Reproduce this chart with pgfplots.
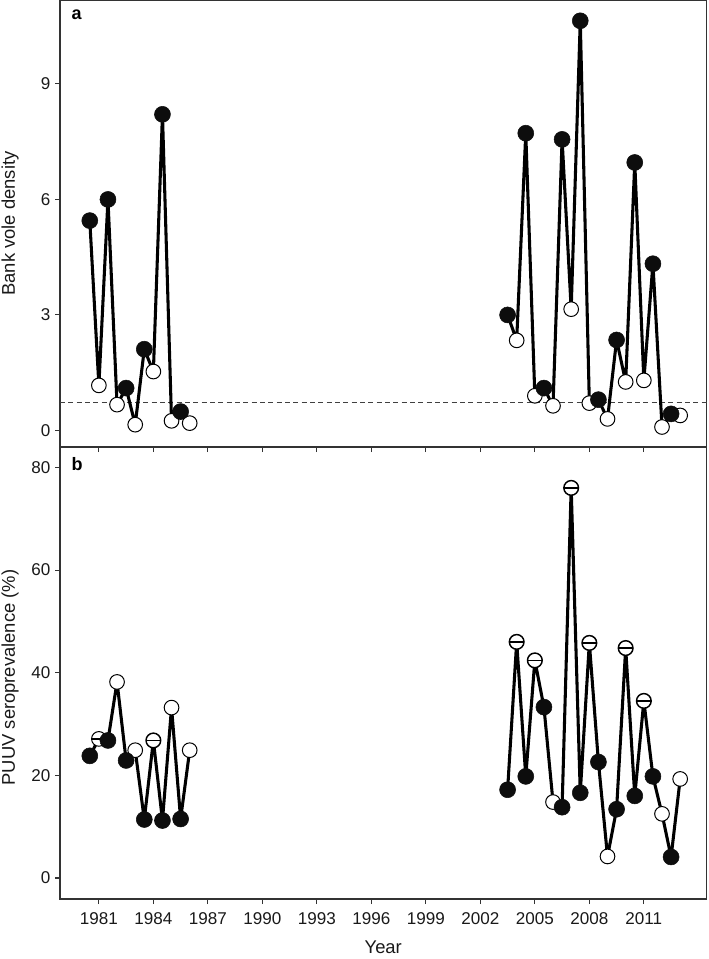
\documentclass[border=0pt]{standalone}
\usepackage{fontspec}
\setmainfont{Liberation Sans}
\usepackage{pgfplots}
\pgfplotsset{compat=1.18}
\usepackage{pgfplotstable}

\pgfdeclareplotmark{ominus}{%
  \pgfpathcircle{\pgfpointorigin}{\pgfplotmarksize}%
  \pgfusepathqfillstroke
  \pgfsetlinewidth{1.1pt}%
  \pgfpathmoveto{\pgfqpoint{-\pgfplotmarksize}{0pt}}%
  \pgfpathlineto{\pgfqpoint{\pgfplotmarksize}{0pt}}%
  \pgfusepathqstroke
}

% t: 0 = autumn (filled), 1 = spring (open), 2 = spring (open, bar)
\pgfplotstableread{
year val t
1980.5 5.45 0
1981.0 1.17 1
1981.5 6.00 0
1982.0 0.67 1
1982.5 1.10 0
1983.0 0.15 1
1983.5 2.11 0
1984.0 1.53 1
1984.5 8.21 0
1985.0 0.25 1
1985.5 0.49 0
1986.0 0.19 1
1995.0 nan 9
2003.5 3.00 0
2004.0 2.34 1
2004.5 7.72 0
2005.0 0.90 1
2005.5 1.10 0
2006.0 0.64 1
2006.5 7.56 0
2007.0 3.15 1
2007.5 10.64 0
2008.0 0.71 1
2008.5 0.80 0
2009.0 0.30 1
2009.5 2.35 0
2010.0 1.26 1
2010.5 6.96 0
2011.0 1.30 1
2011.5 4.33 0
2012.0 0.09 1
2012.5 0.43 0
2013.0 0.39 1
}\tabA

\pgfplotstableread{
year val t
1980.5 23.8 0
1981.0 27.1 2
1981.5 26.8 0
1982.0 38.2 1
1982.5 22.9 0
1983.0 24.9 1
1983.5 11.4 0
1984.0 26.8 2
1984.5 11.2 0
1985.0 33.2 1
1985.5 11.5 0
1986.0 24.9 1
1995.0 nan 9
2003.5 17.2 0
2004.0 46.0 2
2004.5 19.8 0
2005.0 42.4 2
2005.5 33.3 0
2006.0 14.8 1
2006.5 13.8 0
2007.0 76.0 2
2007.5 16.6 0
2008.0 45.8 2
2008.5 22.6 0
2009.0 4.2 1
2009.5 13.4 0
2010.0 44.8 2
2010.5 16.0 0
2011.0 34.5 2
2011.5 19.8 0
2012.0 12.5 1
2012.5 4.1 0
2013.0 19.3 1
}\tabB

\pgfplotsset{
  myax/.style={
    scale only axis,
    width=484.875pt,
    xmin=1978.86, xmax=2014.45,
    xtick={1981,1984,...,2011},
    tick align=outside,
    tick pos=left,
    major tick length=3.75pt,
    axis line style={line width=1pt, black!80},
    every tick/.style={black!80, line width=0.8pt},
    ticklabel style={font=\fontsize{12.8}{14}\selectfont, text=black!90},
    xticklabel style={yshift=-3pt},
    /pgf/number format/assume math mode=true,
    /pgf/number format/1000 sep={},
    unbounded coords=jump,
  },
  dataline/.style={black, line width=2.3pt, line join=round, line cap=round, no marks},
  openmk/.style={only marks, mark=*, mark size=5.5pt, mark options={fill=white, draw=black, line width=0.75pt}},
  barmk/.style={only marks, mark=ominus, mark size=5.5pt, mark options={fill=white, draw=black, line width=0.75pt}},
  fillmk/.style={only marks, mark=*, mark size=6pt, mark options={fill=black!95, draw=black!95}},
}

\begin{document}
\begin{tikzpicture}
\path[use as bounding box] (-45pt,-719.25pt) rectangle (486pt,0pt);

\begin{axis}[myax,
  at={(0pt,0pt)}, anchor=north west,
  height=335.25pt,
  ymin=-0.43, ymax=11.18,
  ytick={0,3,6,9},
  xticklabels={},
  ylabel={Bank vole density},
  every axis y label/.style={at={(axis description cs:-0.0773,0.5)}, anchor=center, rotate=90, font=\fontsize{13.8}{15}\selectfont, text=black!90},
]
\addplot[black!75, line width=0.7pt, dash pattern=on 3.75pt off 2.5pt] coordinates {(1978.86,0.73) (2014.45,0.73)};
\addplot[dataline] table[x=year, y=val] {\tabA};
\addplot[openmk, restrict expr to domain={\thisrow{t}}{1:1}] table[x=year, y=val] {\tabA};
\addplot[fillmk, restrict expr to domain={\thisrow{t}}{0:0}] table[x=year, y=val] {\tabA};
\node[anchor=north west, inner sep=0pt, font=\fontsize{13.5}{15}\selectfont\bfseries] at (axis description cs:0.0175,1) [yshift=-7.5pt] {a};
\end{axis}

\begin{axis}[myax,
  at={(0pt,-335.25pt)}, anchor=north west,
  height=339pt,
  ymin=-4.09, ymax=83.97,
  ytick={0,20,...,80},
  xlabel={Year},
  ylabel={PUUV seroprevalence (\%)},
  every axis x label/.style={at={(axis description cs:0.5,0)}, anchor=center, yshift=-36pt, font=\fontsize{13.8}{15}\selectfont, text=black!90},
  every axis y label/.style={at={(axis description cs:-0.0773,0.49)}, anchor=center, rotate=90, font=\fontsize{13.8}{15}\selectfont, text=black!90},
]
\addplot[dataline] table[x=year, y=val] {\tabB};
\addplot[openmk, restrict expr to domain={\thisrow{t}}{1:1}] table[x=year, y=val] {\tabB};
\addplot[barmk, restrict expr to domain={\thisrow{t}}{2:2}] table[x=year, y=val] {\tabB};
\addplot[fillmk, restrict expr to domain={\thisrow{t}}{0:0}] table[x=year, y=val] {\tabB};
\node[anchor=north west, inner sep=0pt, font=\fontsize{13.5}{15}\selectfont\bfseries] at (axis description cs:0.0175,1) [yshift=-8pt] {b};
\end{axis}
\end{tikzpicture}
\end{document}
